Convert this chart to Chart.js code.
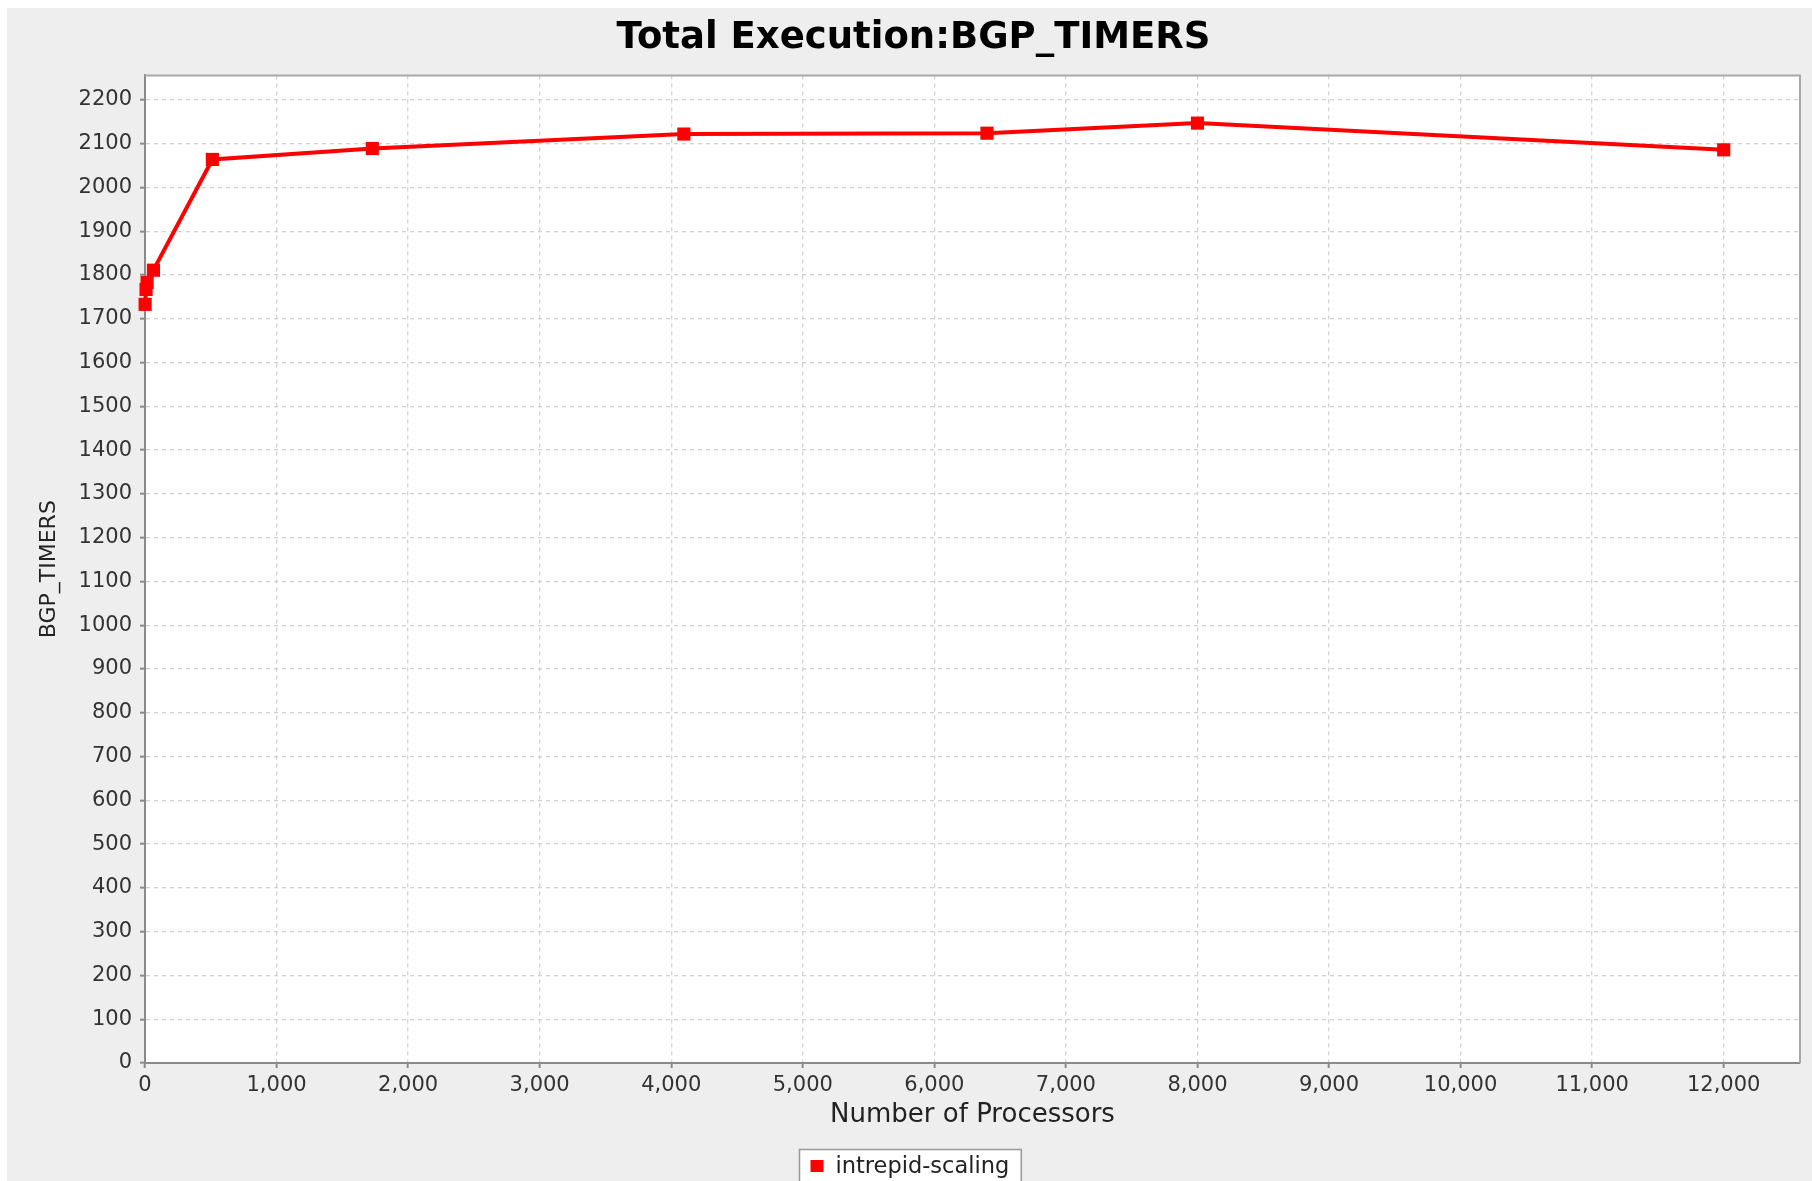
<!DOCTYPE html>
<html>
<head>
<meta charset="utf-8">
<script src="https://cdn.jsdelivr.net/npm/chart.js@4"></script>
<style>
  html, body { margin: 0; padding: 0; background: #ffffff; }
  #wrap { width: 1812px; height: 1181px; position: relative; }
</style>
</head>
<body>
<div id="wrap"><canvas id="graficoBgp"></canvas></div>
<script>
// data
const chartTitle = 'Total Execution:BGP_TIMERS';
const seriesLabel = 'intrepid-scaling';
const xTitle = 'Number of Processors';
const yTitle = 'BGP_TIMERS';
const processors = [1, 8, 16, 64, 512, 1728, 4096, 6400, 8000, 12000];
const bgpTimers = [1733, 1767, 1783, 1811, 2064, 2089, 2122, 2124, 2147, 2086];
const xTicks = [0, 1000, 2000, 3000, 4000, 5000, 6000, 7000, 8000, 9000, 10000, 11000, 12000];
const yTicks = [0, 100, 200, 300, 400, 500, 600, 700, 800, 900, 1000, 1100,
                1200, 1300, 1400, 1500, 1600, 1700, 1800, 1900, 2000, 2100, 2200];
const xRange = [0, 12580];
const yRange = [0, 2256];

const FONT = "'DejaVu Sans', sans-serif";
const RED = '#ff0000';

// grey panel + white plot area + light border on top/right
const panelBg = {
  id: 'panelBg',
  beforeDraw(chart) {
    const { ctx, chartArea: a } = chart;
    ctx.save();
    ctx.fillStyle = '#eeeeee';
    ctx.fillRect(7, 8, chart.width - 7, chart.height - 8);
    ctx.fillStyle = '#ffffff';
    ctx.fillRect(a.left, a.top, a.right - a.left, a.bottom - a.top);
    ctx.restore();
  },
  beforeDatasetsDraw(chart) {
    const { ctx, chartArea: a } = chart;
    ctx.save();
    ctx.strokeStyle = '#a8a8a8';
    ctx.lineWidth = 2;
    ctx.beginPath();
    ctx.moveTo(a.left, a.top);
    ctx.lineTo(a.right, a.top);
    ctx.lineTo(a.right, a.bottom);
    ctx.stroke();
    ctx.restore();
  }
};

// legend box under the axis title (bordered, centred on the panel)
const boxLegend = {
  id: 'boxLegend',
  afterDraw(chart) {
    const { ctx } = chart;
    const ds = chart.data.datasets[0];
    ctx.save();
    ctx.font = '22.5px ' + FONT;
    const tw = ctx.measureText(ds.label).width;
    const w = tw + 48;
    const x0 = Math.round((7 + chart.width) / 2 - w / 2) + 0.5;
    const y0 = 1149.5;
    ctx.fillStyle = '#ffffff';
    ctx.fillRect(x0, y0, w, 45);
    ctx.strokeStyle = '#999999';
    ctx.lineWidth = 1.5;
    ctx.strokeRect(x0, y0, w, 45);
    ctx.fillStyle = ds.borderColor;
    ctx.fillRect(x0 + 11, 1160, 13, 12);
    ctx.fillStyle = '#222222';
    ctx.textBaseline = 'middle';
    ctx.fillText(ds.label, x0 + 36, 1167);
    ctx.restore();
  }
};

const gridOpts = {
  color: '#d2d2d2',
  lineWidth: 1.3,
  drawTicks: true,
  tickLength: 5,
  tickColor: '#8a8a8a',
  tickWidth: 2,
  tickBorderDash: []
};

const ctx = document.getElementById('graficoBgp');

new Chart(ctx, {
  type: 'scatter',
  data: {
    datasets: [{
      label: seriesLabel,
      data: processors.map((p, i) => ({ x: p, y: bgpTimers[i] })),
      showLine: true,
      clip: false,
      borderColor: RED,
      backgroundColor: RED,
      borderWidth: 4,
      pointStyle: 'rect',
      pointRadius: 9.3,
      pointHoverRadius: 9.3,
      pointBorderWidth: 0,
      tension: 0
    }]
  },
  plugins: [panelBg, boxLegend],
  options: {
    responsive: true,
    maintainAspectRatio: false,
    animation: false,
    locale: 'en-US',
    layout: { padding: { left: 27, right: 12, top: 0, bottom: 45 } },
    plugins: {
      legend: { display: false },
      tooltip: { enabled: false },
      title: {
        display: true,
        text: chartTitle,
        color: '#000000',
        font: { family: FONT, size: 37, weight: 'bold', lineHeight: 1.2 },
        padding: { top: 16, bottom: 15 }
      }
    },
    scales: {
      x: {
        type: 'linear',
        min: xRange[0],
        max: xRange[1],
        afterBuildTicks(scale) { scale.ticks = xTicks.map(v => ({ value: v })); },
        afterFit(scale) { scale.height = 73; },
        border: { display: true, color: '#8a8a8a', width: 2, dash: [4, 4] },
        grid: gridOpts,
        ticks: {
          autoSkip: false,
          padding: 5,
          color: '#333333',
          font: { family: FONT, size: 21 },
          maxRotation: 0
        },
        title: {
          display: true,
          text: xTitle,
          color: '#222222',
          font: { family: FONT, size: 26 },
          padding: { top: 0, bottom: 5 }
        }
      },
      y: {
        type: 'linear',
        min: yRange[0],
        max: yRange[1],
        afterBuildTicks(scale) { scale.ticks = yTicks.map(v => ({ value: v })); },
        afterFit(scale) { scale.width = 118; },
        border: { display: true, color: '#8a8a8a', width: 2, dash: [4, 4] },
        grid: gridOpts,
        ticks: {
          autoSkip: false,
          padding: 8,
          color: '#333333',
          font: { family: FONT, size: 21 },
          callback: v => String(v)
        },
        title: {
          display: true,
          text: yTitle,
          color: '#222222',
          font: { family: FONT, size: 22 },
          padding: { top: 9, bottom: 0 }
        }
      }
    }
  }
});
</script>
</body>
</html>
